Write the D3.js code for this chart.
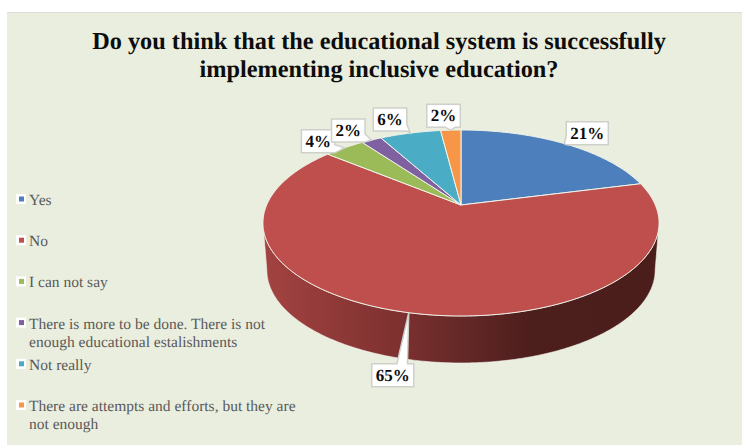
<!DOCTYPE html>
<html>
<head>
<meta charset="utf-8">
<script src="https://cdnjs.cloudflare.com/ajax/libs/d3/7.8.5/d3.min.js"></script>
<style>
  html, body { margin: 0; padding: 0; background: #fff; }
  svg { display: block; }
  text { font-family: "Liberation Serif", serif; text-rendering: geometricPrecision; }
</style>
</head>
<body>
<svg id="chart" width="742" height="445"></svg>
<script>
// Survey answers, in clockwise order from twelve o'clock
const categories = [
  "Yes",
  "No",
  "I can not say",
  "There is more to be done. There is not enough educational estalishments",
  "Not really",
  "There are attempts and efforts, but they are not enough"
];
const shares = [21, 65, 4, 2, 6, 2];
const colors = ["#4C7FBB", "#BE4F4C", "#9BBB59", "#7F60A0", "#4BACC6", "#F79646"];
const titleLines = [
  "Do you think that the educational system is successfully",
  "implementing inclusive education?"
];

// Callout placement relative to the slice's rim point, and which box edge carries the tail
const calloutLayout = [
  { dx: 2,   dy: -22, edge: "left",   t0: 0.6,  t1: 1 },
  { dx: -37, dy: 51,  edge: "top",    t0: 0.6,  t1: 0.85 },
  { dx: -43, dy: -18, edge: "right",  t0: 0.65, t1: 1 },
  { dx: -40, dy: -21, edge: "right",  t0: 0.65, t1: 1 },
  { dx: -37, dy: -25, edge: "right",  t0: 0.7,  t1: 1 },
  { dx: -24, dy: -26, edge: "bottom", t0: 0.55, t1: 0.85 }
];

const svg = d3.select("#chart");
const W = 742, H = 445;

svg.append("rect").attr("x", 7).attr("y", 12).attr("width", W - 7).attr("height", H - 12)
  .attr("fill", "#EAEEDE");
svg.append("line").attr("x1", 7).attr("x2", W).attr("y1", 12.5).attr("y2", 12.5)
  .attr("stroke", "#dcdcdc");

// Title
svg.append("g").selectAll("text").data(titleLines).join("text")
  .attr("x", 379)
  .attr("y", (d, i) => 48.5 + i * 28.5)
  .attr("text-anchor", "middle")
  .attr("font-size", 24.3)
  .attr("font-weight", "bold")
  .attr("fill", "#0d0d0d")
  .text(d => d);

// Perspective projection of a unit disc onto the page; v grows toward the viewer
const tilt = 0.1935;
function projector(cx, cy, bx, by) {
  return (u, v) => {
    const w = 1 - tilt * v;
    return [cx + bx * u / w, cy + by * v / w];
  };
}
const topDisc = projector(461, 205, 194.3, 89.5);
const baseDisc = projector(461, 252, 190.5, 89.5);
const onRim = (disc, a) => disc(Math.sin(a), -Math.cos(a));

const pie = d3.pie().sort(null).value(d => d)(shares);
const outline = d3.line();
const sweep = (a0, a1) => d3.range(a0, a1, 0.01).concat([a1]);

// Side wall: the front half of the rim, down to the base disc
const defs = svg.append("defs");
const wallShade = defs.append("linearGradient").attr("id", "wall")
  .attr("gradientUnits", "userSpaceOnUse")
  .attr("x1", 263).attr("x2", 659).attr("y1", 0).attr("y2", 0);
[[0, "#A34341"], [0.35, "#7C302F"], [0.52, "#622726"], [0.68, "#4C1E1C"], [1, "#4B1D1B"]]
  .forEach(([o, c]) => wallShade.append("stop").attr("offset", o).attr("stop-color", c));

const edgeAngle = Math.PI / 2 + Math.asin(tilt);
const frontAngles = sweep(edgeAngle, 2 * Math.PI - edgeAngle);
const wallPts = frontAngles.map(a => onRim(topDisc, a))
  .concat(frontAngles.slice().reverse().map(a => onRim(baseDisc, a)));
svg.append("path").attr("d", outline(wallPts) + "Z")
  .attr("fill", "url(#wall)")
  .attr("stroke", "#f4f4ee").attr("stroke-width", 0.6);

// Top face
svg.append("g").selectAll("path").data(pie).join("path")
  .attr("d", d => {
    const rim = sweep(d.startAngle, d.endAngle).map(a => onRim(topDisc, a));
    return outline([topDisc(0, 0), ...rim]) + "Z";
  })
  .attr("fill", (d, i) => colors[i])
  .attr("stroke", "#f2f4ec")
  .attr("stroke-width", 1)
  .attr("stroke-linejoin", "round");

// Legend
const legendY = d3.scalePoint().domain(categories).range([205, 411]);
const legend = svg.append("g").selectAll("g").data(categories).join("g")
  .attr("transform", d => `translate(0,${legendY(d)})`);
legend.append("rect").attr("x", 16).attr("y", -11).attr("width", 10).attr("height", 10)
  .attr("fill", "#fff");
legend.append("rect").attr("x", 19).attr("y", -8.5).attr("width", 5).attr("height", 5)
  .attr("fill", (d, i) => colors[i]);
legend.each(function (d) {
  const g = d3.select(this);
  const probe = g.append("text").attr("font-size", 15.5);
  const words = d.split(" ");
  const lines = [];
  let line = "";
  words.forEach(word => {
    const next = line ? line + " " + word : word;
    probe.text(next);
    if (probe.node().getComputedTextLength() > 275 && line) {
      lines.push(line);
      line = word;
    } else {
      line = next;
    }
  });
  lines.push(line);
  probe.remove();
  g.selectAll("text").data(lines).join("text")
    .attr("x", 29)
    .attr("y", (l, i) => i * 18)
    .attr("font-size", 15.5)
    .attr("fill", "#595959")
    .text(l => l);
});

// Value callouts
function calloutPath(x, y, w, h, tip, spec) {
  const { edge, t0, t1 } = spec;
  const tl = [x, y], tr = [x + w, y], br = [x + w, y + h], bl = [x, y + h];
  const pts = [tl];
  if (edge === "top") pts.push([x + w * t0, y], tip, [x + w * t1, y]);
  pts.push(tr);
  if (edge === "right") pts.push([x + w, y + h * t0], tip, [x + w, y + h * t1]);
  pts.push(br);
  if (edge === "bottom") pts.push([x + w * t1, y + h], tip, [x + w * t0, y + h]);
  pts.push(bl);
  if (edge === "left") pts.push([x, y + h * t1], tip, [x, y + h * t0]);
  return outline(pts) + "Z";
}
const callouts = svg.append("g").selectAll("g").data(pie).join("g");
callouts.each(function (d, i) {
  const g = d3.select(this);
  const spec = calloutLayout[i];
  const tip = onRim(topDisc, (d.startAngle + d.endAngle) / 2);
  const label = g.append("text")
    .attr("font-size", 17).attr("font-weight", "bold").attr("fill", "#0d0d0d")
    .attr("text-anchor", "middle").text(shares[i] + "%");
  const w = label.node().getComputedTextLength() + 8;
  const h = 23;
  const x = tip[0] + spec.dx, y = tip[1] + spec.dy;
  g.insert("path", "text")
    .attr("d", calloutPath(x, y, w, h, tip, spec))
    .attr("fill", "#fff").attr("stroke", "#cfd0cc").attr("stroke-width", 1.5)
    .attr("stroke-linejoin", "miter");
  label.attr("x", x + w / 2).attr("y", y + 17);
});
</script>
</body>
</html>
